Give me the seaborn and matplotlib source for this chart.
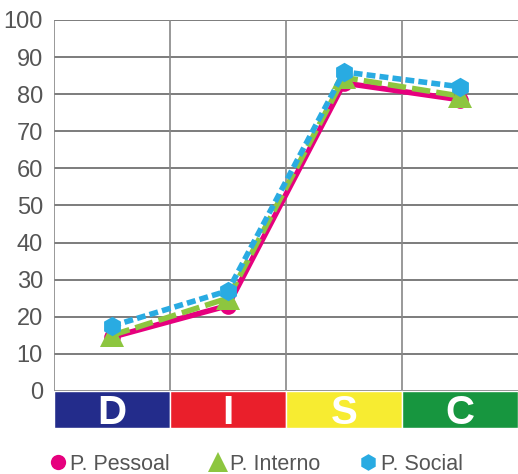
import numpy as np
import pandas as pd
import seaborn as sns
import matplotlib.pyplot as plt
from matplotlib.lines import Line2D

categories = ["D", "I", "S", "C"]
band_colors = ["#232C8B", "#EA1F2B", "#F7EC31", "#17963F"]
pessoal = [14.5, 23, 83, 78.5]
interno = [15, 25, 84.5, 79.5]
social = [17.5, 27, 86, 82]
series_names = ["P. Pessoal", "P. Interno", "P. Social"]

sns.set_style("white")
plt.rcParams['font.family'] = ['Liberation Sans', 'DejaVu Sans']

fig = plt.figure(figsize=(5.18, 4.74), dpi=100)
ax = fig.add_axes([54 / 518, 1 - 428 / 474, 1 - 54 / 518, 408 / 474])

pos = np.arange(len(categories)) + 0.5
df = pd.DataFrame({"cat": pos, "P. Pessoal": pessoal, "P. Interno": interno, "P. Social": social})

styles = [
    dict(color="#E6007E", marker="o", dashes=None, ms=12, lms=11),
    dict(color="#8DC63F", marker="^", dashes=(3.3, 1.1), ms=17, lms=14),
    dict(color="#29ABE2", marker="h", dashes=(1.6, 0.75), ms=14, lms=12),
]
proxies = []
for name, st in zip(series_names, styles):
    sns.lineplot(data=df, x="cat", y=name, color=st["color"], marker=st["marker"],
                 markersize=st["ms"], markeredgewidth=0, linewidth=4, ax=ax, zorder=3)
    if st["dashes"]:
        ax.lines[-1].set_dashes(st["dashes"])
    proxies.append(Line2D([], [], color=st["color"], marker=st["marker"], linestyle="none",
                          markersize=st["lms"], markeredgewidth=0, label=name))

# colored DISC band under zero
ax.bar(pos, [10] * 4, bottom=-10, width=1, color=band_colors, zorder=2)
for p, c in zip(pos, categories):
    ax.text(p, -5, c, color="white", fontsize=29, fontweight="bold",
            ha="center", va="center_baseline", zorder=4)

ax.set_xlim(0, 4)
ax.set_ylim(-10, 100)
ax.set_yticks(range(0, 101, 10))
ax.set_xticks([])
ax.tick_params(axis="y", labelsize=17, labelcolor="#555555", length=0, pad=8)
for y in range(0, 101, 10):
    ax.axhline(y, color="#666666", linewidth=1.2, zorder=1)
for x in [0, 1, 2, 3]:
    ax.plot([x, x], [0, 100], color="#888888", linewidth=1.2, zorder=1)
for s in ax.spines.values():
    s.set_visible(False)
ax.set_xlabel("")
ax.set_ylabel("")

leg = fig.legend(handles=proxies, loc="center", bbox_to_anchor=(0.49, 1 - 464 / 474),
                 ncol=3, frameon=False, fontsize=15.5, handletextpad=0.0, columnspacing=1.6,
                 handlelength=1.2)
for t in leg.get_texts():
    t.set_color("#555555")

fig.savefig("out.png", dpi=100)
